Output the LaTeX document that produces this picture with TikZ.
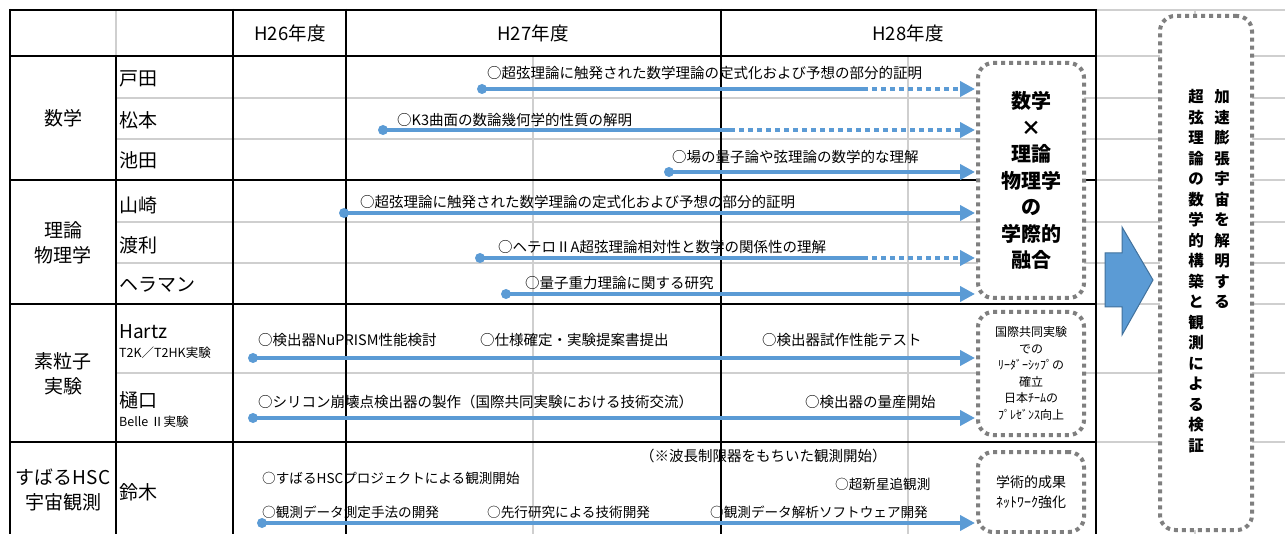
\documentclass[tikz,border=0pt]{standalone}
\usepackage{fontspec}
\setmainfont{Noto Sans CJK JP}
\usetikzlibrary{arrows.meta}
\definecolor{barblue}{HTML}{5B9BD5}
\definecolor{arrowedge}{HTML}{41719C}
\definecolor{gridgray}{HTML}{CFCFCF}
\definecolor{dotgray}{HTML}{7F7F7F}
\begin{document}
\begin{tikzpicture}[x=1pt,y=-1pt,
  blk/.style={line width=2pt,black},
  grd/.style={line width=1.5pt,gridgray},
  bar/.style={line width=4.5pt,barblue},
  bardot/.style={line width=4.5pt,barblue,dash pattern=on 4.5pt off 4.5pt},
  tipped/.style={-{Triangle[length=15pt,width=15pt]}},
  startdot/.style={circle,fill=barblue,inner sep=0pt,minimum size=10pt},
  lbl/.style={anchor=west,inner sep=0pt,font=\fontsize{14.5}{17}\selectfont},
  lbls/.style={anchor=west,inner sep=0pt,font=\fontsize{13.6}{17}\selectfont},
  hdr/.style={inner sep=0pt,font=\fontsize{18.5}{22}\selectfont},
  grp/.style={inner sep=0pt,align=center,font=\fontsize{19}{24.5}\selectfont},
  nm/.style={anchor=west,inner sep=0pt,font=\fontsize{19}{22}\selectfont},
  sub/.style={anchor=west,inner sep=0pt,font=\fontsize{12.5}{15}\selectfont},
  dotbox/.style={draw=dotgray,line width=4pt,dash pattern=on 4pt off 4pt,rounded corners=15pt,fill=white,inner sep=0pt,align=center},
  vt/.style={inner sep=0pt,align=center,font=\bfseries\fontsize{15.5}{20.5}\selectfont}
]
\useasboundingbox (0,0) rectangle (1285,534);
\fill[white] (0,0) rectangle (1285,534);
% light grid
\foreach \y in {98,139,222,263,373} \draw[grd] (116,\y) -- (1285,\y);
\foreach \y in {10,56,180,304,442} \draw[grd] (1096,\y) -- (1285,\y);
\draw[grd] (533,56) -- (533,534);
\draw[grd] (908,56) -- (908,534);
\draw[grd] (116,10) -- (116,56);
\draw[grd] (1195,10) -- (1195,534);
% black grid
\foreach \y in {10,56,180,304,442} \draw[blk] (10,\y) -- (1096,\y);
\draw[blk] (10,9) -- (10,534);
\draw[blk] (116,56) -- (116,534);
\foreach \x in {233,346,721,1096} \draw[blk] (\x,9) -- (\x,534);
% headers
\node[hdr] (h26) at (290,33) {H26年度};
\node[hdr] (h27) at (533,33) {H27年度};
\node[hdr] (h28) at (908,33) {H28年度};
% groups
\node[grp] (g1) at (63,118) {数学};
\node[grp] (g2) at (63,243) {理論\\物理学};
\node[grp] (g3) at (63,374) {素粒子\\実験};
\node[grp] (g4) at (63,490) {すばるHSC\\宇宙観測};
% names
\node[nm] (n1) at (119,79) {戸田};
\node[nm] (n2) at (119,120) {松本};
\node[nm] (n3) at (119,160) {池田};
\node[nm] (n4) at (119,205) {山崎};
\node[nm] (n5) at (119,245) {渡利};
\node[nm] (n6) at (119,285) {ヘラマン};
\node[nm] (n7) at (119,332) {Hartz};
\node[sub] (n7s) at (119,353) {T2K／T2HK実験};
\node[nm] (n8) at (119,400) {樋口};
\node[sub] (n8s) at (119,422) {Belle Ⅱ実験};
\node[nm] (n9) at (119,492) {鈴木};
% right boxes
\node[dotbox,minimum width=106pt,minimum height=235pt,font=\bfseries\fontsize{20}{26.5}\selectfont] (fusion) at (1031,180.5) {数学\\×\\理論\\物理学\\の\\学際的\\融合};
\node[dotbox,minimum width=106pt,minimum height=123pt,font=\fontsize{12}{16.6}\selectfont] (lead) at (1031,373.5) {国際共同実験\\での\\ﾘｰﾀﾞｰｼｯﾌﾟの\\確立\\日本ﾁｰﾑの\\ﾌﾟﾚｾﾞﾝｽ向上};
\node[dotbox,minimum width=106pt,minimum height=80pt,font=\fontsize{14}{20}\selectfont] (acad) at (1031,492) {学術的成果\\ﾈｯﾄﾜｰｸ強化};
\node[dotbox,minimum width=92pt,minimum height=514pt] (goal) at (1206,273) {};
\node[vt] (vr) at (1222,199.5) {加\\速\\膨\\張\\宇\\宙\\を\\解\\明\\す\\る};
\node[vt] (vl) at (1196,271) {超\\弦\\理\\論\\の\\数\\学\\的\\構\\築\\と\\観\\測\\に\\よ\\る\\検\\証};
% block arrow
\filldraw[fill=barblue,draw=arrowedge,line width=1pt] (1105,253) -- (1122,253) -- (1122,227) -- (1153,280) -- (1122,335) -- (1122,307) -- (1105,307) -- cycle;
% bars
\node[startdot] (s1) at (482,89) {};
\coordinate (m1) at (863,89); \coordinate (e1) at (975,89);
\draw[bar] (s1.center) -- (m1); \draw[bardot,tipped] (m1) -- (e1);
\node[lbl] (l1) at (487,73) {○超弦理論に触発された数学理論の定式化および予想の部分的証明};

\node[startdot] (s2) at (383,130) {};
\coordinate (m2) at (730,130); \coordinate (e2) at (975,130);
\draw[bar] (s2.center) -- (m2); \draw[bardot,tipped] (m2) -- (e2);
\node[lbl] (l2) at (397,120) {○K3曲面の数論幾何学的性質の解明};

\node[startdot] (s3) at (669,172) {};
\coordinate (e3) at (975,172);
\draw[bar,tipped] (s3.center) -- (e3);
\node[lbl] (l3) at (672,157) {○場の量子論や弦理論の数学的な理解};

\node[startdot] (s4) at (344,213) {};
\coordinate (e4) at (975,213);
\draw[bar,tipped] (s4.center) -- (e4);
\node[lbl] (l4) at (360,202) {○超弦理論に触発された数学理論の定式化および予想の部分的証明};

\node[startdot] (s5) at (480,258) {};
\coordinate (m5) at (863,258); \coordinate (e5) at (975,258);
\draw[bar] (s5.center) -- (m5); \draw[bardot,tipped] (m5) -- (e5);
\node[lbl] (l5) at (498,247) {○ヘテロⅡA超弦理論相対性と数学の関係性の理解};

\node[startdot] (s6) at (506,294) {};
\coordinate (e6) at (975,294);
\draw[bar,tipped] (s6.center) -- (e6);
\node[lbl] (l6) at (525,283) {○量子重力理論に関する研究};

\node[startdot] (s7) at (253,358) {};
\coordinate (e7) at (975,358);
\draw[bar,tipped] (s7.center) -- (e7);
\node[lbl] (l7a) at (258,340) {○検出器NuPRISM性能検討};
\node[lbl] (l7b) at (480,340) {○仕様確定・実験提案書提出};
\node[lbl] (l7c) at (762,340) {○検出器試作性能テスト};

\node[startdot] (s8) at (253,418) {};
\coordinate (e8) at (975,418);
\draw[bar,tipped] (s8.center) -- (e8);
\node[lbl] (l8a) at (258,402) {○シリコン崩壊点検出器の製作（国際共同実験における技術交流）};
\node[lbl] (l8b) at (805,402) {○検出器の量産開始};

\node[startdot] (s9) at (262,523) {};
\coordinate (e9) at (975,523);
\draw[bar,tipped] (s9.center) -- (e9);
\node[lbl] (l9a) at (640,456) {（※波長制限器をもちいた観測開始）};
\node[lbls] (l9b) at (262,478) {○すばるHSCプロジェクトによる観測開始};
\node[lbls] (l9c) at (835,484) {○超新星追観測};
\node[lbls] (l9d) at (262,512) {○観測データ測定手法の開発};
\node[lbls] (l9e) at (487,512) {○先行研究による技術開発};
\node[lbls] (l9f) at (710,512) {○観測データ解析ソフトウェア開発};
\end{tikzpicture}
\end{document}
